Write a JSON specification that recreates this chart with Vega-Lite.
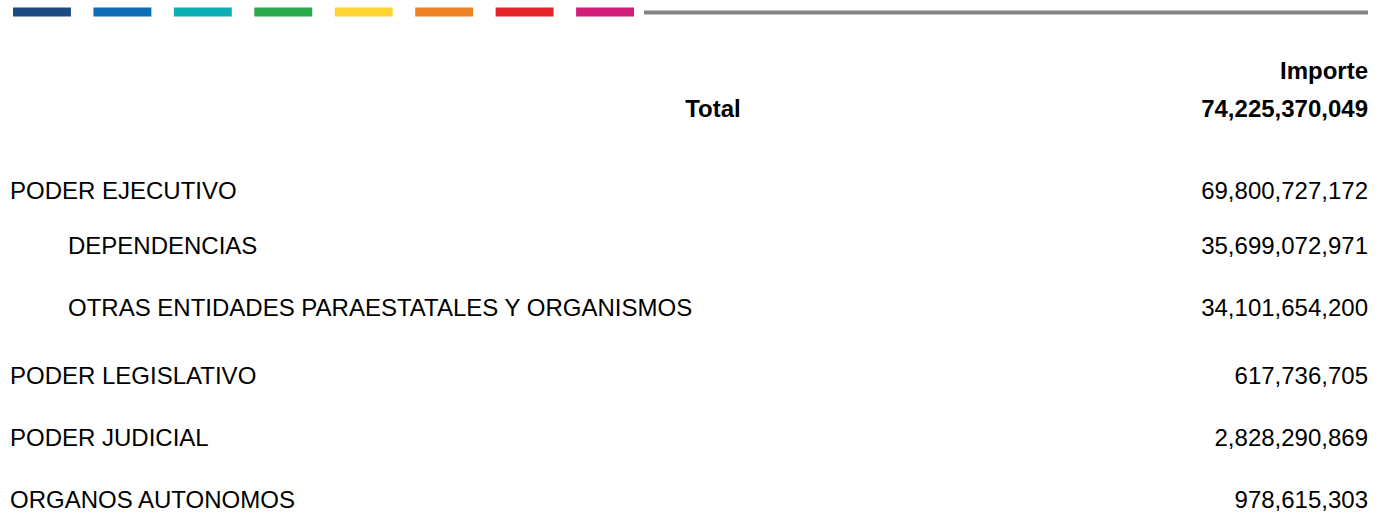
{
  "$schema": "https://vega.github.io/schema/vega-lite/v6.json",
  "width": 1387,
  "height": 518,
  "autosize": {"type": "fit", "contains": "padding"},
  "padding": 0,
  "background": "#ffffff",
  "config": {
    "view": {"stroke": null},
    "text": {"font": "Liberation Sans", "fontSize": 24, "color": "#000000"}
  },
  "datasets": {
    "franjas": [
      {"franja": 1}, {"franja": 2}, {"franja": 3}, {"franja": 4},
      {"franja": 5}, {"franja": 6}, {"franja": 7}, {"franja": 8}
    ],
    "encabezado": [{"titulo": "Importe"}],
    "total": [{"concepto": "Total", "importe": 74225370049}],
    "filas": [
      {"orden": 1, "concepto": "PODER EJECUTIVO", "nivel": 0, "importe": 69800727172},
      {"orden": 2, "concepto": "DEPENDENCIAS", "nivel": 1, "importe": 35699072971},
      {"orden": 3, "concepto": "OTRAS ENTIDADES PARAESTATALES Y ORGANISMOS", "nivel": 1, "importe": 34101654200},
      {"orden": 4, "concepto": "PODER LEGISLATIVO", "nivel": 0, "importe": 617736705},
      {"orden": 5, "concepto": "PODER JUDICIAL", "nivel": 0, "importe": 2828290869},
      {"orden": 6, "concepto": "ORGANOS AUTONOMOS", "nivel": 0, "importe": 978615303}
    ]
  },
  "layer": [
    {
      "data": {"name": "franjas"},
      "mark": {"type": "rect"},
      "encoding": {
        "x": {"field": "franja", "type": "ordinal", "axis": null,
              "scale": {"type": "band", "range": [13, 634], "paddingInner": 0.28, "paddingOuter": 0}},
        "y": {"value": 7.5},
        "y2": {"value": 16.5},
        "color": {"field": "franja", "type": "ordinal", "legend": null,
                  "scale": {"domain": [1, 2, 3, 4, 5, 6, 7, 8],
                            "range": ["#1B4A80", "#0D6EB5", "#0DAFB4", "#2BA84A", "#FED432", "#EF8328", "#E3242B", "#D31F7A"]}}
      }
    },
    {
      "data": {"values": [{}]},
      "mark": {"type": "rule", "color": "#858585", "strokeWidth": 4},
      "encoding": {"x": {"value": 644}, "x2": {"value": 1368}, "y": {"value": 12.5}}
    },
    {
      "data": {"name": "encabezado"},
      "mark": {"type": "text", "align": "right", "baseline": "middle", "fontWeight": "bold"},
      "encoding": {
        "text": {"field": "titulo"},
        "x": {"datum": "importe", "type": "nominal", "axis": null,
              "scale": {"type": "point", "domain": ["concepto", "total", "importe"], "range": [10, 1368], "padding": 0}},
        "y": {"datum": "encabezado", "type": "nominal", "axis": null,
              "scale": {"type": "point", "domain": ["encabezado", "total"], "range": [71.5, 109.5], "padding": 0}}
      }
    },
    {
      "data": {"name": "total"},
      "mark": {"type": "text", "align": "center", "baseline": "middle", "fontWeight": "bold", "dx": 24},
      "encoding": {
        "text": {"field": "concepto"},
        "x": {"datum": "total", "type": "nominal", "axis": null,
              "scale": {"type": "point", "domain": ["concepto", "total", "importe"], "range": [10, 1368], "padding": 0}},
        "y": {"datum": "total", "type": "nominal", "axis": null,
              "scale": {"type": "point", "domain": ["encabezado", "total"], "range": [71.5, 109.5], "padding": 0}}
      }
    },
    {
      "data": {"name": "total"},
      "mark": {"type": "text", "align": "right", "baseline": "middle", "fontWeight": "bold"},
      "encoding": {
        "text": {"field": "importe", "type": "quantitative", "format": ",d"},
        "x": {"datum": "importe", "type": "nominal", "axis": null,
              "scale": {"type": "point", "domain": ["concepto", "total", "importe"], "range": [10, 1368], "padding": 0}},
        "y": {"datum": "total", "type": "nominal", "axis": null,
              "scale": {"type": "point", "domain": ["encabezado", "total"], "range": [71.5, 109.5], "padding": 0}}
      }
    },
    {
      "data": {"name": "filas"},
      "transform": [{"filter": "datum.nivel == 0"}],
      "mark": {"type": "text", "align": "left", "baseline": "middle"},
      "encoding": {
        "text": {"field": "concepto"},
        "x": {"datum": "concepto", "type": "nominal", "axis": null,
              "scale": {"type": "point", "domain": ["concepto", "total", "importe"], "range": [10, 1368], "padding": 0}},
        "y": {"field": "orden", "type": "ordinal", "axis": null,
              "scale": {"type": "point", "domain": [1, 2, 3, 4, 5, 6], "range": [191.5, 500.5], "padding": 0}}
      }
    },
    {
      "data": {"name": "filas"},
      "transform": [{"filter": "datum.nivel == 1"}],
      "mark": {"type": "text", "align": "left", "baseline": "middle", "dx": 58, "dy": -6},
      "encoding": {
        "text": {"field": "concepto"},
        "x": {"datum": "concepto", "type": "nominal", "axis": null,
              "scale": {"type": "point", "domain": ["concepto", "total", "importe"], "range": [10, 1368], "padding": 0}},
        "y": {"field": "orden", "type": "ordinal", "axis": null,
              "scale": {"type": "point", "domain": [1, 2, 3, 4, 5, 6], "range": [191.5, 500.5], "padding": 0}}
      }
    },
    {
      "data": {"name": "filas"},
      "transform": [{"filter": "datum.nivel == 0"}],
      "mark": {"type": "text", "align": "right", "baseline": "middle"},
      "encoding": {
        "text": {"field": "importe", "type": "quantitative", "format": ",d"},
        "x": {"datum": "importe", "type": "nominal", "axis": null,
              "scale": {"type": "point", "domain": ["concepto", "total", "importe"], "range": [10, 1368], "padding": 0}},
        "y": {"field": "orden", "type": "ordinal", "axis": null,
              "scale": {"type": "point", "domain": [1, 2, 3, 4, 5, 6], "range": [191.5, 500.5], "padding": 0}}
      }
    },
    {
      "data": {"name": "filas"},
      "transform": [{"filter": "datum.nivel == 1"}],
      "mark": {"type": "text", "align": "right", "baseline": "middle", "dy": -6},
      "encoding": {
        "text": {"field": "importe", "type": "quantitative", "format": ",d"},
        "x": {"datum": "importe", "type": "nominal", "axis": null,
              "scale": {"type": "point", "domain": ["concepto", "total", "importe"], "range": [10, 1368], "padding": 0}},
        "y": {"field": "orden", "type": "ordinal", "axis": null,
              "scale": {"type": "point", "domain": [1, 2, 3, 4, 5, 6], "range": [191.5, 500.5], "padding": 0}}
      }
    }
  ],
  "resolve": {"scale": {"x": "independent", "y": "independent", "color": "independent"}}
}
